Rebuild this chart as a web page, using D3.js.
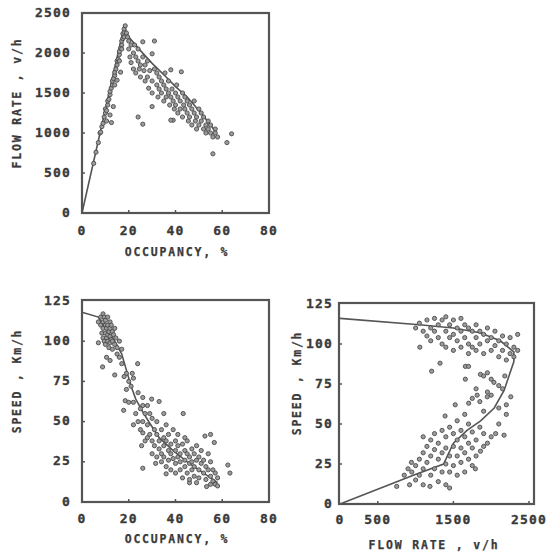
<!DOCTYPE html>
<html><head><meta charset="utf-8">
<script src="https://cdn.jsdelivr.net/npm/d3@7"></script>
<style>
html,body{margin:0;padding:0;background:#fff;}
svg{display:block;}
.tick{font-family:"DejaVu Sans Mono",monospace;font-weight:bold;font-size:13px;fill:#3a3a3a;stroke:#3a3a3a;stroke-width:0.35px;letter-spacing:1.2px;}
.title{font-family:"DejaVu Sans Mono",monospace;font-weight:bold;font-size:11.5px;fill:#3a3a3a;stroke:#3a3a3a;stroke-width:0.25px;letter-spacing:1.8px;}
</style></head><body>
<script>
// ---------- DATA ----------
const occTicks = [0, 20, 40, 60, 80];
const flowTicks = [0, 500, 1000, 1500, 2000, 2500];
const speedTicks = [0, 25, 50, 75, 100, 125];
const flowTicksX = [0, 500, 1500, 2500];

// Panel 1: flow rate (v/h) vs occupancy (%)
const flowOccPoints = [
 [5,620],[6,760],[7,880],[7.7,1000],[8,1010],[8.5,1080],[9,1120],[9.5,1200],[10,1250],[10,1300],[10.5,1280],[11,1350],[11,1400],[11.5,1420],[12,1480],[12,1520],[12.5,1560],[13,1600],[13,1650],[13.5,1680],[14,1720],[14,1760],[14.5,1800],[15,1850],[15,1900],[15.5,1920],[16,1980],[16,2020],[16.5,2060],[17,2100],[17,2150],[17.5,2180],[17.5,2240],[18,2260],[18,2300],[18.5,2340],[18,2200],[17,2050],[16,1900],
 [12,1225],[12.6,1130],[13.4,1330],[15,1660],[16.5,1760],[10.5,1150],[14,1600],
 [19,2250],[19.5,2200],[20,2150],[20,2050],[20.5,1950],[21,2100],[21,1880],[22,2000],[22,1800],[22.5,2100],[23,1950],[23,1750],[24,1900],[24,2050],[24.5,1800],[25,1700],[25,1850],[26,2140],[26,1950],[26.5,1780],[27,1650],[27,1850],[28,1900],[28,1700],[28.5,1560],[29,1780],[30,1990],[30,1650],[30,1500],[31,2150],[31,1800],[32,1750],[32,1600],[32.5,1450],[33,1700],[33,1550],[34,1650],[34,1500],[35,1600],[35,1400],[35.5,1750],[36,1550],[36,1450],[37,1500],[37,1650],[37.5,1350],[38,1790],[38,1450],[38.5,1550],[39,1400],[39,1160],[39.5,1300],[40,1500],[40,1350],[40.5,1600],[41,1450],[41,1250],[42,1400],[42,1300],[42.5,1765],[43,1500],[43,1200],[43.5,1350],[44,1450],[44,1300],[45,1250],[45,1400],[45.5,1150],[46,1350],[46,1200],[47,1300],[47,1100],[48,1250],[48,1400],[48.5,1150],[49,1200],[49,1050],[50,1300],[50,1100],[51,1150],[51,1250],[52,1050],[52,1200],[53,1100],[53,1000],[54,1150],[54,1050],[55,1000],[55,1100],[56,950],[56,740],[57,1050],[57,1000],[58,950],[62,880],[64,990],[24,1200],[26,1110],[30,1330],[38,1160]
];
const flowOccFit = [[0,0],[18,2330],[20,2200],[25,2030],[30,1870],[36,1700],[40,1580],[45,1450],[50,1280],[55,1100],[57.5,1000]];

// Panel 2: speed (km/h) vs occupancy (%)
const speedOccPoints = [
 [7,112],[8,115],[8,110],[8.5,105],[9,117],[9,112],[9,108],[9,102],[9.5,115],[9.5,100],[10,113],[10,110],[10,105],[10,98],[10.5,108],[10.5,102],[11,115],[11,110],[11,104],[11,100],[11.5,106],[11.5,96],[12,112],[12,108],[12,103],[12,99],[12.5,110],[12.5,101],[13,106],[13,100],[13,95],[13.5,104],[14,108],[14,98],[14.5,102],[15,96],[15,92],[16,100],[16,90],[17,95],[17,86],
 [7,99],[8.8,84],[10.5,90],[12,88],[14,79],[18.5,63],[17.8,57],[23.8,86],[21.5,80],[22,77],[19,80],[20,75],[19,70],[18,78],
 [26,65],[29.8,64],[33,62.5],[35,55],[43.3,55],[26,43],[25.5,35],[26,21],[31.5,24],[36,17.5],[44,40],[52.6,41],[55,42],[56.6,37],[62.4,23],[63.3,18],[53.3,9.6],[46,12],
 [22,62],[23,55],[24,50],[25,58],[25,45],[26,50],[27,38],[27,55],[28,60],[24,68],[21,72],[20,62],[22,48],[26,60],[29,42],[30,52],
 [28,48],[28,40],[29,55],[30,38],[30,30],[31,45],[31,35],[32,50],[32,42],[32,28],[33,38],[33,33],[34,45],[34,30],[34,25],[35,40],[35,35],[35,28],[36,48],[36,38],[36,22],[37,42],[37,32],[37,26],[38,36],[38,30],[38,20],[39,45],[39,27],[40,38],[40,32],[40,24],[40,18],[41,35],[41,28],[41,42],[42,30],[42,25],[42,20],[43,36],[43,15],[44,32],[44,26],[44,22],[45,38],[45,30],[45,18],[46,28],[46,24],[46,14],[47,33],[47,20],[47,25],[48,30],[48,22],[48,16],[49,35],[49,26],[49,12],[50,28],[50,20],[50,15],[51,32],[51,24],[52,18],[52,26],[53,22],[53,14],[54,30],[54,20],[55,25],[55,16],[55,11],[56,20],[56,13],[57,18],[57,11],[58,15],[58,10]
];
const speedOccFit = [[0,118],[7,115],[10,108],[14,100],[17,92],[19,82],[21,72],[23,64],[26,56],[29,49],[33,40],[39,32],[45,25],[50,20],[55,15],[58,12]];

// Panel 3: speed (km/h) vs flow rate (v/h)
const speedFlowPoints = [
 [1000,110],[1050,113],[1100,108],[1150,115],[1150,105],[1200,110],[1200,102],[1250,116],[1250,108],[1300,112],[1300,104],[1350,115],[1350,100],[1400,117],[1400,108],[1400,98],[1450,112],[1450,104],[1500,115],[1500,106],[1500,96],[1550,110],[1550,102],[1600,116],[1600,108],[1600,98],[1650,112],[1650,104],[1700,110],[1700,100],[1700,94],[1750,108],[1750,98],[1800,112],[1800,104],[1800,96],[1850,108],[1850,100],[1900,106],[1900,94],[1950,110],[1950,102],[2000,104],[2000,96],[2050,108],[2050,99],[2100,102],[2100,92],[2150,105],[2150,96],[2200,100],[2200,90],[2250,104],[2250,94],[2300,98],[2300,92],[2350,106],[2350,96],
 [1056,98],[1212,83],[1323,88],[1658,86],[1700,86],[1858,81],[1900,80],[1950,82],[2000,78],[1658,78],[2036,76],[2100,74],[2180,80],[2259,67],[2200,62],[2150,72],[1800,72],[1950,70],[2000,68],[1750,66],[1850,64],[2100,60],[1900,58],
 [750,11],[920,12],[850,18],[900,22],[945,26],[950,20],[1000,15],[1000,24],[1050,18],[1050,28],[1100,12],[1100,22],[1100,32],[1100,42],[1150,26],[1150,36],[1190,11],[1200,18],[1200,30],[1200,40],[1250,22],[1250,34],[1250,44],[1300,14],[1300,28],[1300,38],[1350,20],[1350,32],[1350,46],[1390,55],[1400,12],[1400,25],[1400,35],[1400,42],[1450,10],[1450,20],[1450,30],[1450,48],[1500,24],[1500,36],[1500,44],[1524,62],[1550,18],[1550,30],[1550,40],[1550,52],[1600,26],[1600,35],[1600,46],[1650,20],[1650,32],[1650,42],[1650,56],[1700,28],[1700,38],[1700,50],[1702,63],[1750,24],[1750,35],[1750,45],[1791,22],[1800,30],[1800,40],[1814,68],[1858,33],[1850,48],[1900,36],[1900,44],[1948,67],[1950,38],[2000,42],[2059,44],[2170,43],[2100,50],[2200,56]
];
const speedFlowFit = [[0,116],[1050,112],[1500,110],[1850,107],[2120,102],[2300,95],[2300,89],[2170,71],[2040,60],[1860,52],[1680,46],[1500,38],[1370,25],[970,18],[0,0]];

// ---------- DRAW ----------
const W = 560, H = 554;
const svg = d3.select("body").append("svg").attr("width", W).attr("height", H);

const panels = [
 {box:[82,269,13,213], xd:[0,80], xr:[82,269], yd:[0,2500], yr:[213,13], xt:occTicks, yt:flowTicks,
  pts:flowOccPoints, fit:flowOccFit, xTitle:"OCCUPANCY, %", yTitle:"FLOW RATE , v/h",
  xTitlePos:[177,252], yTitlePos:[17,103], xLabY:231, yLabX:71},
 {box:[82,269,300,502], xd:[0,80], xr:[82,269], yd:[0,125], yr:[502,301], xt:occTicks, yt:speedTicks,
  pts:speedOccPoints, fit:speedOccFit, xTitle:"OCCUPANCY, %", yTitle:"SPEED , Km/h",
  xTitlePos:[177,539], yTitlePos:[17,381], xLabY:519, yLabX:71},
 {box:[339,534,303,504], xd:[0,2500], xr:[340,529], yd:[0,125], yr:[504,304], xt:flowTicksX, yt:speedTicks,
  pts:speedFlowPoints, fit:speedFlowFit, xTitle:"FLOW RATE , v/h", yTitle:"SPEED , Km/h",
  xTitlePos:[434,545], yTitlePos:[297,383], xLabY:520, yLabX:333}
];

panels.forEach(p => {
  const x = d3.scaleLinear().domain(p.xd).range(p.xr);
  const y = d3.scaleLinear().domain(p.yd).range(p.yr);
  const g = svg.append("g");
  const [L,R,T,B] = p.box;

  // inner tick marks
  g.selectAll(".xtm").data(p.xt.filter(v => x(v) > L+2 && x(v) < R-2)).join("line")
    .attr("x1", d => x(d)).attr("x2", d => x(d)).attr("y1", B).attr("y2", B-3)
    .attr("stroke", "#555").attr("stroke-width", 1.5);
  g.selectAll(".ytm").data(p.yt.filter(v => y(v) > T+2 && y(v) < B-2)).join("line")
    .attr("x1", L).attr("x2", L+3).attr("y1", d => y(d)).attr("y2", d => y(d))
    .attr("stroke", "#555").attr("stroke-width", 1.5);

  // fitted curve
  g.append("path").datum(p.fit)
    .attr("d", d3.line().x(d => x(d[0])).y(d => y(d[1])))
    .attr("fill", "none").attr("stroke", "#555").attr("stroke-width", 1.6);

  // points
  g.selectAll("circle").data(p.pts).join("circle")
    .attr("cx", d => x(d[0])).attr("cy", d => y(d[1])).attr("r", 2.1)
    .attr("fill", "#9c9c9c").attr("stroke", "#4a4a4a").attr("stroke-width", 0.9);

  // frame
  g.append("rect").attr("x", L).attr("y", T).attr("width", R-L).attr("height", B-T)
    .attr("fill", "none").attr("stroke", "#555").attr("stroke-width", 2.2);

  // tick labels
  g.selectAll(".xl").data(p.xt).join("text").attr("class","tick")
    .attr("x", d => x(d)).attr("y", p.xLabY).attr("text-anchor","middle")
    .attr("dominant-baseline","middle").text(d => d);
  g.selectAll(".yl").data(p.yt).join("text").attr("class","tick")
    .attr("x", p.yLabX).attr("y", d => y(d)).attr("text-anchor","end")
    .attr("dominant-baseline","middle").text(d => d);

  // titles
  g.append("text").attr("class","title").attr("x", p.xTitlePos[0]).attr("y", p.xTitlePos[1])
    .attr("text-anchor","middle").attr("dominant-baseline","middle").text(p.xTitle);
  g.append("text").attr("class","title")
    .attr("transform", `translate(${p.yTitlePos[0]},${p.yTitlePos[1]}) rotate(-90)`)
    .attr("text-anchor","middle").attr("dominant-baseline","middle").text(p.yTitle);
});
</script>
</body></html>
